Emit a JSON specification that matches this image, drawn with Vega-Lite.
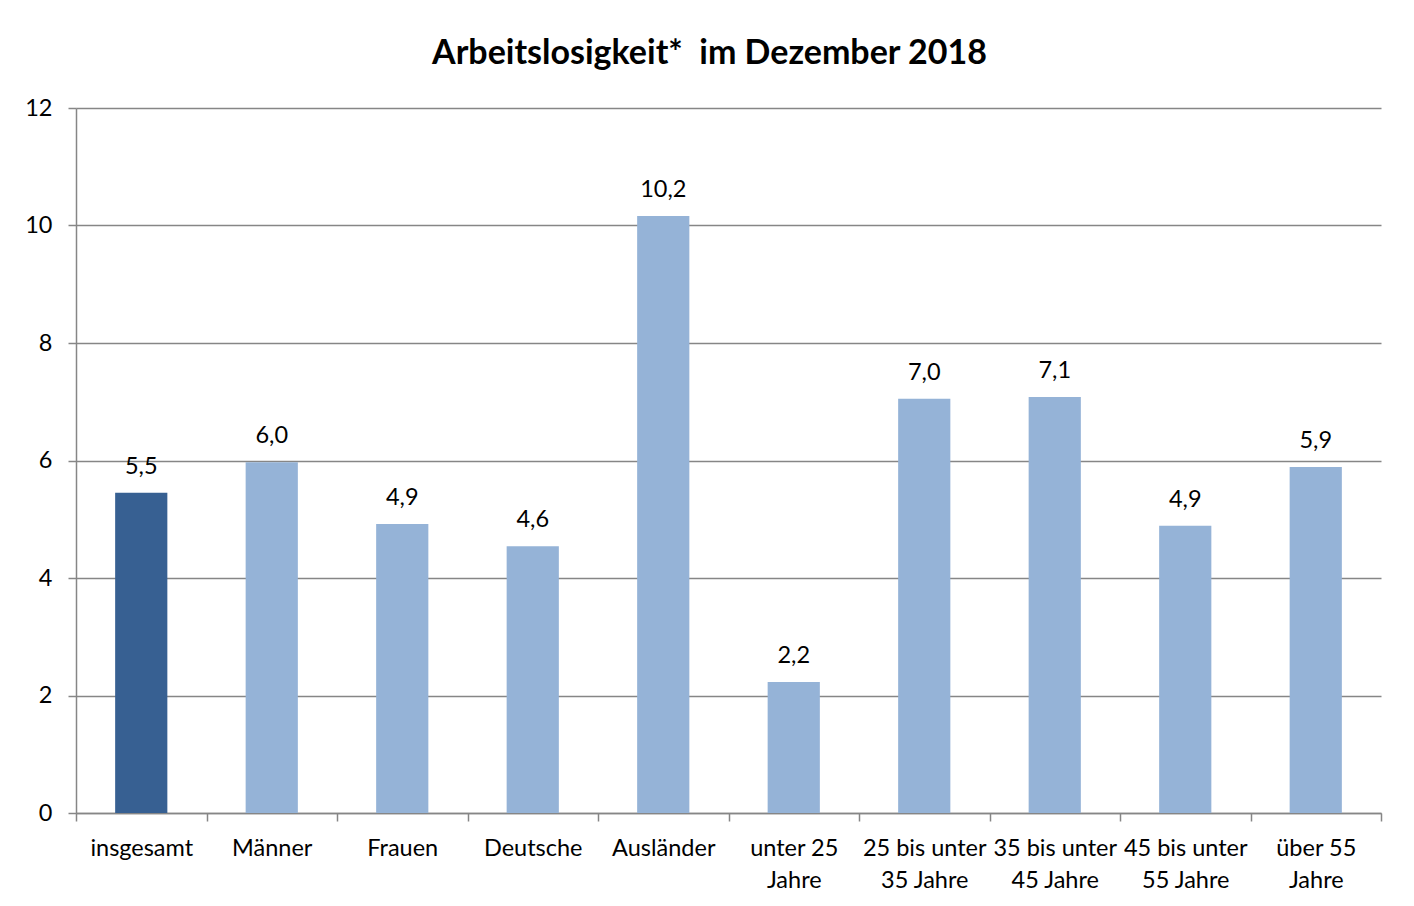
{
  "$schema": "https://vega.github.io/schema/vega-lite/v6.json",
  "autosize": "none",
  "width": 1305,
  "height": 705,
  "padding": {"left": 76, "top": 108, "right": 33, "bottom": 93},
  "background": "white",
  "title": {
    "text": "Arbeitslosigkeit*\u00a0 im Dezember 2018",
    "font": "Lato",
    "fontSize": 34,
    "fontWeight": "bold",
    "color": "#000000",
    "anchor": "middle",
    "dx": -19,
    "offset": 25
  },
  "data": {
    "values": [
      {"gruppe": "insgesamt", "wert": 5.45, "label": "5,5", "typ": "gesamt"},
      {"gruppe": "Männer", "wert": 5.97, "label": "6,0", "typ": "teil"},
      {"gruppe": "Frauen", "wert": 4.92, "label": "4,9", "typ": "teil"},
      {"gruppe": "Deutsche", "wert": 4.54, "label": "4,6", "typ": "teil"},
      {"gruppe": "Ausländer", "wert": 10.16, "label": "10,2", "typ": "teil"},
      {"gruppe": "unter 25 Jahre", "wert": 2.23, "label": "2,2", "typ": "teil"},
      {"gruppe": "25 bis unter 35 Jahre", "wert": 7.05, "label": "7,0", "typ": "teil"},
      {"gruppe": "35 bis unter 45 Jahre", "wert": 7.08, "label": "7,1", "typ": "teil"},
      {"gruppe": "45 bis unter 55 Jahre", "wert": 4.89, "label": "4,9", "typ": "teil"},
      {"gruppe": "über 55 Jahre", "wert": 5.89, "label": "5,9", "typ": "teil"}
    ]
  },
  "encoding": {
    "x": {
      "field": "gruppe",
      "type": "nominal",
      "sort": null,
      "scale": {"paddingInner": 0, "paddingOuter": 0},
      "axis": {
        "title": null,
        "labelAngle": 0,
        "labelFont": "Lato",
        "labelFontSize": 23.5,
        "labelColor": "#000000",
        "labelPadding": 15,
        "labelLineHeight": 32,
        "labelBaseline": "top",
        "labelLimit": 200,
        "labelExpr": "indexof(datum.label, 'bis unter') >= 0 ? [slice(datum.label, 0, indexof(datum.label, 'unter') + 5), slice(datum.label, indexof(datum.label, 'unter') + 6)] : (indexof(datum.label, ' Jahre') > 0 ? [replace(datum.label, ' Jahre', ''), 'Jahre'] : datum.label)",
        "tickBand": "extent",
        "tickSize": 8,
        "tickColor": "#868686",
        "tickWidth": 1.5,
        "domainColor": "#868686",
        "domainWidth": 1.5,
        "grid": false
      }
    },
    "y": {
      "field": "wert",
      "type": "quantitative",
      "scale": {"domain": [0, 12], "nice": false},
      "axis": {
        "title": null,
        "values": [0, 2, 4, 6, 8, 10, 12],
        "labelFont": "Lato",
        "labelFontSize": 23.5,
        "labelColor": "#000000",
        "labelPadding": 16,
        "tickSize": 8,
        "tickColor": "#868686",
        "tickWidth": 1.5,
        "domainColor": "#868686",
        "domainWidth": 1.5,
        "grid": true,
        "gridColor": "#868686",
        "gridWidth": 1.5
      }
    }
  },
  "layer": [
    {
      "mark": {"type": "bar", "width": {"band": 0.4}},
      "encoding": {
        "color": {
          "field": "typ",
          "type": "nominal",
          "scale": {"domain": ["gesamt", "teil"], "range": ["#376092", "#95B3D7"]},
          "legend": null
        }
      }
    },
    {
      "mark": {"type": "text", "baseline": "bottom", "dy": -14, "font": "Lato", "fontSize": 23.5, "color": "#000000"},
      "encoding": {"text": {"field": "label"}}
    }
  ],
  "config": {"view": {"stroke": null}}
}
